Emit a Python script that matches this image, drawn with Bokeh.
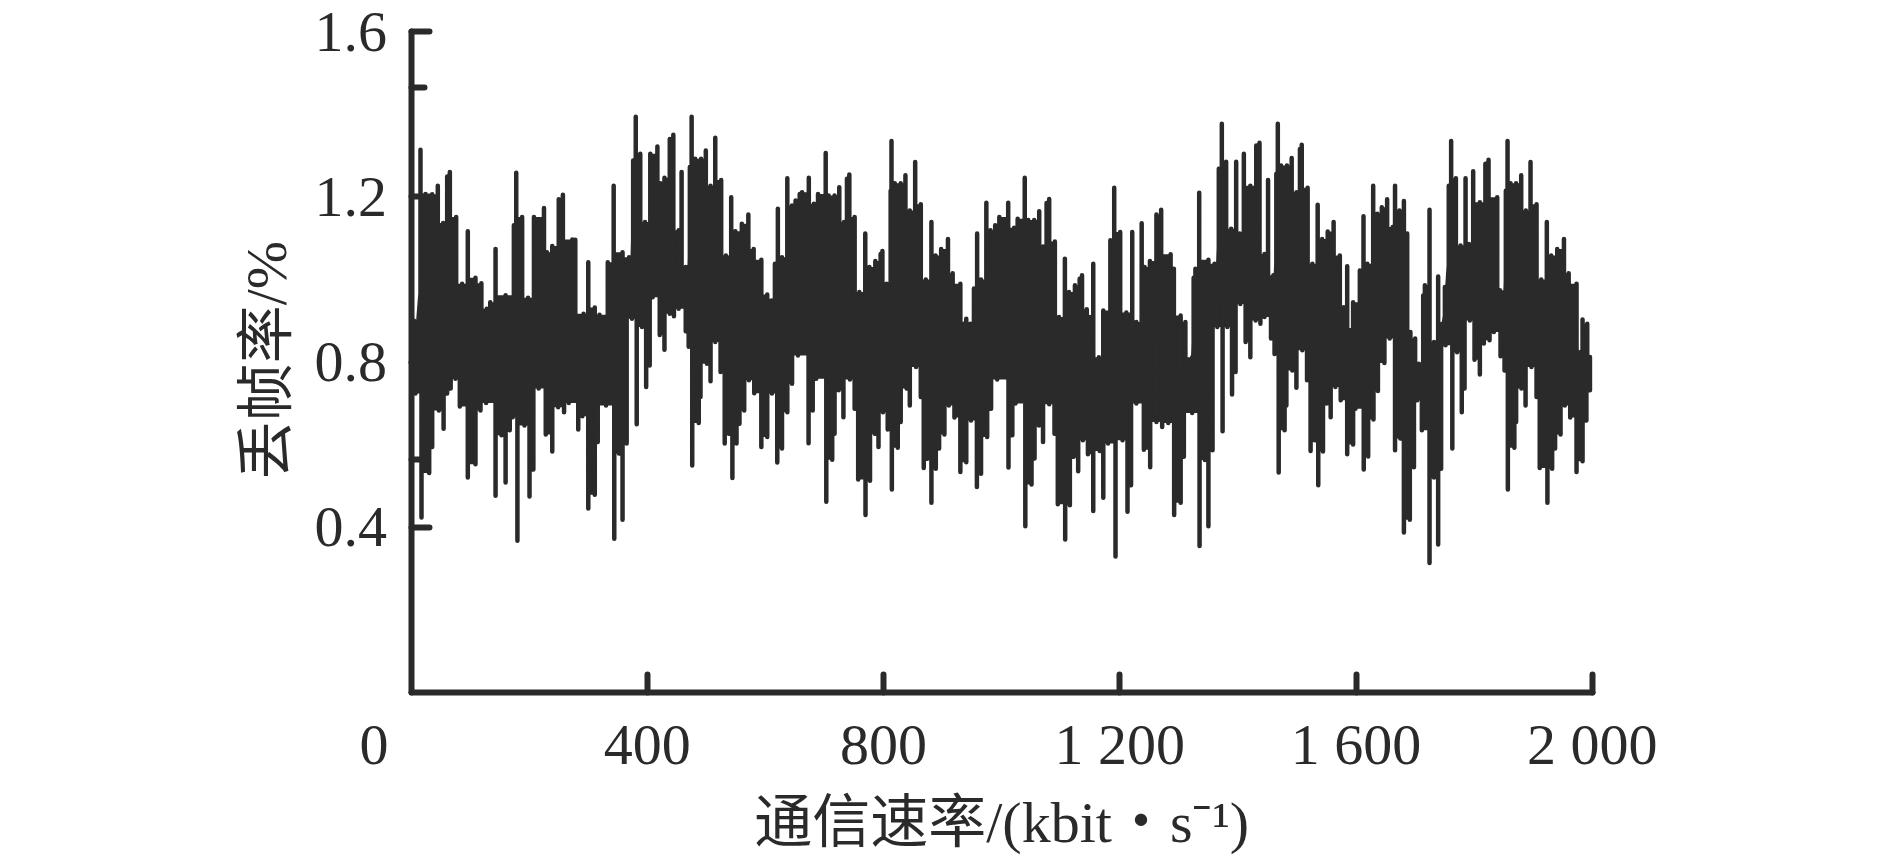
import math
import numpy as np
from bokeh.embed import file_html
from bokeh.resources import INLINE
from bokeh.plotting import figure
from bokeh.models import FixedTicker, Label, Range1d

x_ticks = [400, 800, 1200, 1600, 2000]
x_tick_labels = ["400", "800", "1 200", "1 600", "2 000"]
y_ticks = [0.4, 0.8, 1.2, 1.6]
y_tick_labels = ["0.4", "0.8", "1.2", "1.6"]
y_minor_ticks = [0.564, 1.465]
x_title = "通信速率/(kbit・s⁻¹)"
y_title = "丢帧率/%"

peak_rate = [5,15.9,24.4,35.7,45.2,54.3,61.1,65.6,76.3,86.4,96,109,119,128,134,143,160,174,178,188,198,208,225,230,239,250,257,273,278,292,300,311,319,
 333,343,358,369,376,380.4,388,396,405,417,422,429,438,444,453,458,465,472,475,481,491,499,507,515,525,533,542,549,560,571,580,593,603,610,616,621,628,637,645,651,658,
 662,673.4,682,689,702,707,717,725,733,738,742,751,759,769,776,786,795,798,805,812,813.4,819,829,837,844.4,853.5,863,871.5,881,888,897.5,909,917,930,936,940,947,953,958.4,965,974,981,989,996,
 1011,1021,1027,1039,1045,1055,1063.5,1070,1076,1080.4,1090,1097,1107,1114,1124,1132,1136,1144,1149,1155,1164.5,1172,1184,1190.5,1200.6,1211,1221,1228,1237,1242,1251,1262,1270,1286,1291.5,1303,1311,1322.5,1325,1328,1334.4,
 1350,1360.3,1367.6,1372.7,1380,1388.5,1397,1403,1410,1421,1431,1436.5,1445,1451,1460,1465,1467.5,1473,1483,1491,1499,1505,1508,1518,1526,1535,1542.6,1552,1562,1572.5,1579.3,1585,1590.6,1595,1606.4,1612.6,1619,1629,1636,1643.6,1652.6,1662,1666,1673.5,
 1681,1686.6,1692,1700,1706.3,1713.7,1716.5,1724.4,1732,1739,1746,1750.4,1757,1761,1769,1777,1785.4,1791,1798.3,1809.6,1819,1824.3,1839,1843.5,1853.6,1856.5,1861.6,1871,1879.6,1887.5,1895.4,1905.6,1913.5,1923,1930.4,1940.6,1952,1960,1973.3,1979,1983.5,1991.4]
peak_loss = [.9,1.314,1.207,1.206,1.227,1.137,1.249,1.260,1.151,.990,1.117,1.004,.991,.929,.945,1.074,.962,1.131,1.258,1.151,.956,1.151,1.173,1.066,1.081,1.194,1.205,1.097,1.096,.917,1.042,.932,.915,
 1.042,1.227,1.066,1.054,1.288,1.394,1.304,1.139,1.304,1.322,1.233,1.246,1.340,1.350,1.119,1.260,1.030,1.272,1.394,1.292,1.292,1.312,1.227,1.343,1.241,1.058,1.199,1.117,1.135,1.157,1.074,1.048,.964,.949,1.038,1.171,1.054,1.245,1.179,1.191,1.207,
 1.211,1.246,1.183,1.207,1.306,1.203,1.203,1.223,1.139,1.244,1.254,1.151,.970,1.111,1.030,1.045,1.062,1.069,.990,1.215,1.335,1.233,1.233,1.252,1.167,1.284,1.182,1.0,1.139,1.058,1.074,1.098,1.015,.990,.893,.905,.893,.978,1.111,1.0,1.186,1.119,1.131,1.151,
 1.186,1.125,1.147,1.246,1.144,1.144,1.165,1.080,1.185,1.195,1.092,.909,1.050,.970,.986,1.002,1.010,.928,.909,1.038,.812,.925,1.095,1.222,1.115,.920,1.115,.897,1.136,1.030,1.045,1.157,1.169,1.061,1.026,.913,.897,.812,1.004,1.026,1.210,
 1.048,1.038,1.268,1.377,1.285,1.123,1.285,1.111,1.304,1.227,1.324,1.331,1.062,1.241,1.010,1.256,1.377,1.276,1.276,1.294,1.211,1.316,1.326,1.222,1.038,1.181,1.098,1.116,1.139,1.058,.933,1.032,.877,.945,1.022,1.153,1.038,1.227,1.159,1.175,1.194,1.127,1.227,1.167,
 1.190,1.111,.873,.857,.796,.961,.986,1.169,.849,1.007,.893,.982,1.227,1.335,1.245,1.082,1.245,1.086,1.262,1.187,1.280,1.290,1.199,.974,1.215,1.335,1.233,1.233,1.252,1.167,1.284,1.182,1.0,1.139,1.058,1.074,1.098,1.015,.990,.824,.903,.893]

trough_rate = [7.4,17.6,30.6,35.7,47,55,61,67,75,82.5,96,109,117.5,127,143,153,160,167,172,180,192,200.5,207,216,228,239,249,259,267,283,290,300,311,316,
 330,344,352,358,365,374,382,391,398,404,409,421,429,438,445,453,465,470,476,487,490,501,507,515,524,531,538,544,551,556,564,572,581,593,603,611,620,628,637,645,655,
 673,680,686,703,713,717,724,732,743,751,757,769.4,777,785,791.4,799,807,814,824,829,839,844.4,855,863,868,874,881,888.4,894,903,910.5,920,930,940,948,958,965,975.4,982,992.3,
 1011.5,1018,1023.4,1040,1050.5,1055.6,1063,1070,1080.4,1089.4,1095,1107.5,1115.4,1122,1129.5,1137.4,1146,1155,1166,1172,1180,1192.7,1204.6,1213,1219,1228,1240.7,1251.4,1262,1271.7,1282,1292,1303,1308.4,1322.5,1335,
 1344,1350,1357,1365,1374,1382,1390,1396,1404,1413,1421,1430,1438,1445,1456,1462,1469,1479,1482,1492,1499,1509,1517,1523,1530,1536,1544,1550,1557,1565,1574,1585,1595,1599,1613,1620.5,1629.5,1637,1648,1657,1666,1675,
 1681,1691,1698,1703.5,1711.4,1724.4,1732,1739,1744,1751.5,1763,1771,1779,1783.7,1792.7,1800.6,1809.6,1816.4,1826,1833.3,1844.6,1851.4,1857,1868,1871,1880,1887,1897,1905.6,1911,1924,1932,1937,1946.2,1953.5,1962.6,1973.3,1983.5,1990,1996]
trough_loss = [.724,.424,.532,.595,.683,.639,.724,.736,.760,.693,.521,.553,.683,.701,.477,.623,.509,.635,.667,.368,.647,.475,.540,.736,.625,.584,.691,.679,.701,.637,.669,.446,.479,.607,
 .695,.373,.579,.419,.603,.905,.650,.885,.740,.792,.957,.866,.830,.917,.911,.929,.875,.837,.550,.653,.716,.796,.754,.849,.776,.603,.627,.520,.603,.651,.683,.756,.725,.595,.619,.724,.557,.591,.679,.748,.816,
 .604,.683,.760,.462,.564,.627,.732,.667,.758,.687,.516,.430,.513,.627,.595,.679,.637,.492,.593,.655,.736,.695,.788,.716,.544,.566,.460,.542,.591,.625,.695,.666,.534,.558,.659,.498,.530,.619,.687,.758,
 .545,.623,.700,.403,.504,.567,.647,.607,.698,.627,.456,.371,.454,.571,.536,.611,.577,.440,.585,.472,.603,.330,.611,.438,.502,.700,.588,.546,.655,.643,.653,.430,.460,.571,.677,.355,
 .563,.403,.587,.885,.633,.885,.722,.776,.941,.849,.812,.901,.893,.909,.857,.820,.533,.635,.695,.780,.738,.829,.756,.585,.611,.502,.584,.700,.667,.740,.708,.577,.601,.687,.540,.572,.661,.730,.798,.857,.587,.615,
 .388,.419,.546,.708,.635,.314,.521,.359,.542,.841,.591,.824,.679,.736,.901,.806,.770,.845,.853,.873,.814,.780,.492,.593,.655,.736,.695,.788,.716,.544,.460,.542,.591,.625,.695,.666,.534,.560,.659,.732]

INK = "#2b2a2b"
SERIF = "Liberation Serif, Noto Sans CJK SC"

pr, pl = np.array(peak_rate, float), np.array(peak_loss, float)
tr, tl = np.array(trough_rate, float), np.array(trough_loss, float)

# solid body: between neighbouring extremes the trace holds at the lesser excursion
pk_hold = np.minimum(pl, np.r_[pl[1:], pl[-1]])
tr_hold = np.maximum(tl, np.r_[tl[1:], tl[-1]])
grid = np.union1d(pr, tr)
grid = grid[(grid >= max(pr[0], tr[0])) & (grid <= min(pr[-1], tr[-1]))]
upper = pk_hold[np.searchsorted(pr, grid, side="right") - 1]
lower = tr_hold[np.searchsorted(tr, grid, side="right") - 1]

# the trace itself: out to each extreme and back into the body
all_x = np.r_[pr, tr]
all_y = np.r_[pl, tl]
order = np.argsort(all_x, kind="stable")
line_x, line_y = [], []
for i in order:
    k = np.clip(np.searchsorted(grid, all_x[i], side="right") - 1, 0, len(grid) - 1)
    mid = (upper[k] + lower[k]) / 2
    line_x += [all_x[i]] * 3
    line_y += [mid, all_y[i], mid]
line_x.append(1996); line_y.append(0.732)

W, H = 1880, 858
X0, SX = 410.6, 0.5906
Y0, SY = 692.3, 413.3
p = figure(width=W, height=H, output_backend="svg", toolbar_location=None,
           x_range=Range1d(-X0 / SX, (W - X0) / SX),
           y_range=Range1d((Y0 - H) / SY, Y0 / SY),
           min_border=0)
p.outline_line_color = None
p.grid.visible = False

p.varea_step(x=grid, y1=lower, y2=upper, step_mode="after", fill_color=INK)
p.line(line_x, line_y, line_color=INK, line_width=4.5, line_join="round", line_cap="round")

xa = p.xaxis[0]
xa.fixed_location = 0
xa.bounds = (0, 2000)
xa.ticker = FixedTicker(ticks=x_ticks)
xa.major_label_overrides = dict(zip(x_ticks, x_tick_labels))
ya = p.yaxis[0]
ya.fixed_location = 0
ya.bounds = (0, 1.6)
ya.ticker = FixedTicker(ticks=y_ticks, minor_ticks=y_minor_ticks)
ya.major_label_overrides = dict(zip(y_ticks, y_tick_labels))
for ax in (xa, ya):
    ax.axis_line_color = INK
    ax.axis_line_width = 6
    ax.axis_line_cap = "round"
    ax.major_tick_line_color = INK
    ax.major_tick_line_width = 6
    ax.major_tick_line_cap = "round"
    ax.major_tick_in = 18
    ax.major_tick_out = 0
    ax.major_label_text_font = "Liberation Serif"
    ax.major_label_text_font_size = "58px"
    ax.major_label_text_color = INK
xa.minor_tick_line_color = None
xa.major_label_standoff = 19
ya.minor_tick_line_color = INK
ya.minor_tick_line_width = 6
ya.minor_tick_line_cap = "round"
ya.minor_tick_in = 13
ya.minor_tick_out = 0
ya.major_label_standoff = 24

p.add_layout(Label(x=0, y=0, x_offset=-37, y_offset=-52, text="0", text_align="center",
                   text_baseline="alphabetic", text_font="Liberation Serif",
                   text_font_size="58px", text_color=INK))
p.add_layout(Label(x=1000, y=0, y_offset=-130, text=x_title, text_align="center",
                   text_baseline="alphabetic", text_font=SERIF,
                   text_font_size="58px", text_color=INK))
p.add_layout(Label(x=0, y=0.805, x_offset=-145, text=y_title, angle=math.pi / 2, text_align="center",
                   text_baseline="alphabetic", text_font=SERIF,
                   text_font_size="58px", text_color=INK))

open("out.html", "w").write(file_html(p, INLINE))
